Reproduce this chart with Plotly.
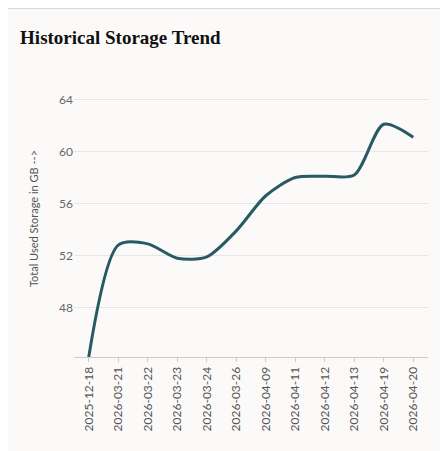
import plotly.graph_objects as go

dates = ["2025-12-18", "2026-03-21", "2026-03-22", "2026-03-23", "2026-03-24", "2026-03-26",
         "2026-04-09", "2026-04-11", "2026-04-12", "2026-04-13", "2026-04-19", "2026-04-20"]
used_gb = [44.2, 52.8, 52.9, 51.8, 51.9, 53.9, 56.6, 58.0, 58.1, 58.2, 62.1, 61.1]
y_ticks = [48, 52, 56, 60, 64]

fig = go.Figure()
fig.add_trace(go.Scatter(x=dates, y=used_gb, mode="lines",
                         line=dict(color="#285a63", width=3, shape="spline", smoothing=0.8)))

fig.update_layout(
    width=448, height=451,
    paper_bgcolor="#fbfaf9", plot_bgcolor="#fbfaf9",
    margin=dict(l=66, r=28, t=72, b=102),
    showlegend=False,
    title=dict(text="<b>Historical Storage Trend</b>", x=0.027, xanchor="left", y=0.935, yanchor="middle",
               font=dict(family="Liberation Serif", size=19, color="#111")),
    font=dict(family="Lato", color="#666"),
)
fig.update_xaxes(type="category", range=[-0.5, len(dates) - 0.5], tickangle=-90, showgrid=False,
                 tickfont=dict(size=12, color="#555"),
                 showline=True, linecolor="#ccc", ticks="outside", ticklen=4, tickcolor="#ccc")
fig.update_yaxes(range=[44.2, 65.5], tickvals=y_ticks, gridcolor="#e6e6ea", zeroline=False,
                 tickfont=dict(size=12, color="#666"),
                 title=dict(text="Total Used Storage in GB -->", font=dict(size=11, color="#555"), standoff=18))

fig.add_shape(type="line", xref="paper", yref="paper", x0=-0.23, x1=1.1, y0=1.26, y1=1.26,
              line=dict(color="#cccccc", width=1.5))
fig.add_shape(type="line", xref="paper", yref="paper", x0=-0.203, x1=-0.203, y0=1.2, y1=-0.3,
              line=dict(color="#dddddd", width=1.5))

fig.write_html("out.html")
